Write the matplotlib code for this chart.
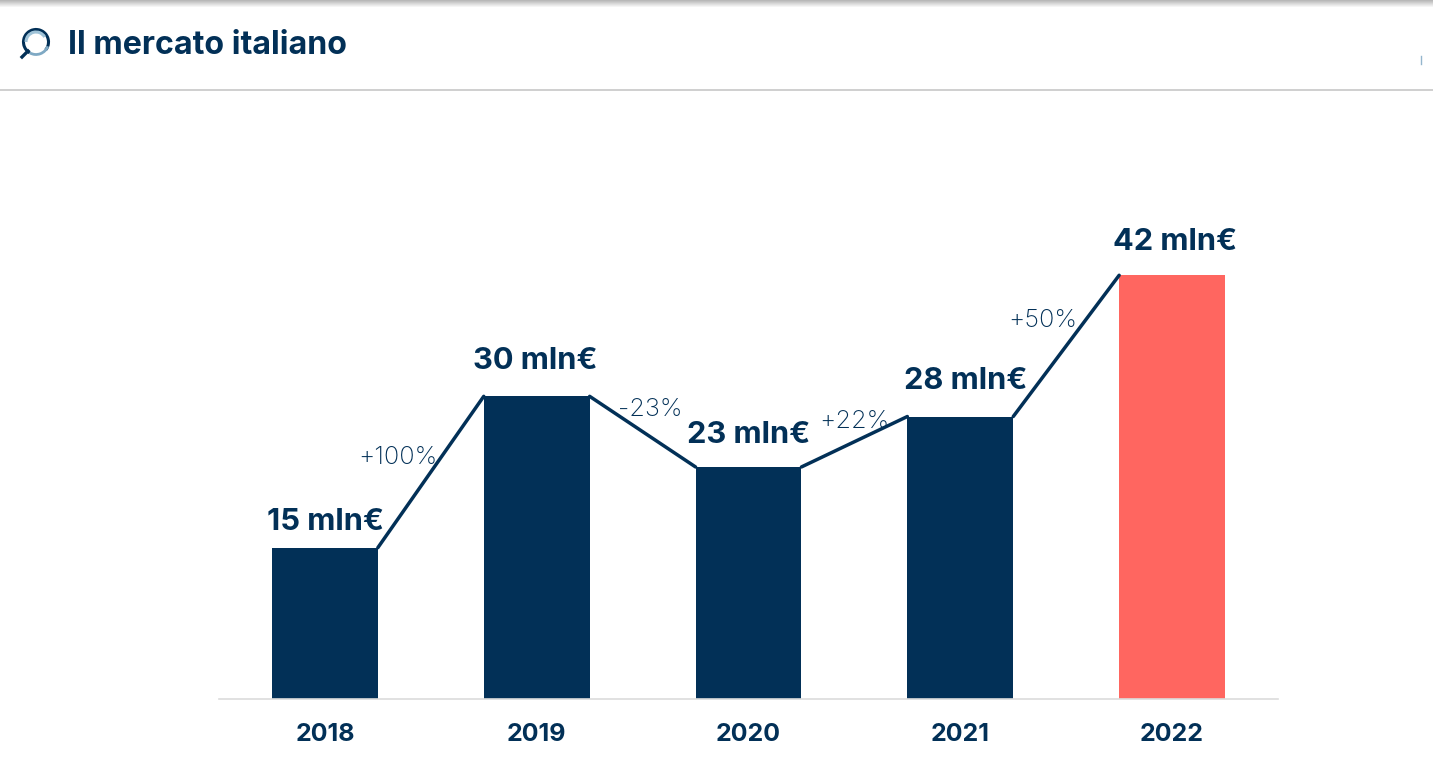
import numpy as np
import matplotlib
matplotlib.use('Agg')
import matplotlib.pyplot as plt
from matplotlib.patches import Arc

years = ['2018', '2019', '2020', '2021', '2022']
values = [15, 30, 23, 28, 42]
value_labels = ['15 mln€', '30 mln€', '23 mln€', '28 mln€', '42 mln€']
changes = ['+100%', '-23%', '+22%', '+50%']
title = 'Il mercato italiano'

navy = '#023057'
coral = '#ff6660'
W, H = 1433, 762

plt.rcParams['font.family'] = ['Inter', 'DejaVu Sans']

fig = plt.figure(figsize=(W / 100, H / 100), dpi=100)

# overlay in pixel coordinates for the page header
page = fig.add_axes([0, 0, 1, 1])
page.set_xlim(0, W)
page.set_ylim(H, 0)
page.axis('off')

# shadow along the top edge
shadow = np.linspace(0.72, 1, 8).reshape(-1, 1)
page.imshow(shadow, cmap='gray', vmin=0, vmax=1, extent=[0, W, 8, 0], aspect='auto')
page.set_xlim(0, W)
page.set_ylim(H, 0)
page.plot([0, W], [89.5, 89.5], color='#cfcfcf', lw=1.4)
page.text(68, 46, title, color=navy, fontsize=23.2, fontweight='bold', va='center', ha='left')

# magnifying glass icon
page.add_patch(Arc((36, 42), 25, 25, theta1=120, theta2=400, color=navy, lw=2.2))
page.add_patch(Arc((36, 42), 20, 20, theta1=180, theta2=330, color='#9fc3d8', lw=2.2))
page.add_patch(Arc((36, 42), 25, 25, theta1=20, theta2=120, color='#7fa9c4', lw=2.0))
page.plot([22, 28], [57, 51], color=navy, lw=2.4)
page.plot([1421, 1421], [56, 64], color='#4d86ad', lw=1, alpha=0.6)

# chart axes, bottom edge is the baseline
ax = fig.add_axes([219 / W, 1 - 699 / H, 1059 / W, 454 / H])
ax.patch.set_alpha(0)
x = np.arange(len(years))
colors = [navy] * 4 + [coral]
ax.bar(x, values, width=0.5, color=colors, zorder=2)
ax.set_xlim(-0.5, 4.5)
ax.set_ylim(0, 45)
ax.set_yticks([])
ax.set_xticks(x)
ax.set_xticklabels(years, fontsize=18, fontweight='bold', color=navy)
ax.tick_params(axis='x', length=0, pad=17)
for side in ['top', 'left', 'right']:
    ax.spines[side].set_visible(False)
ax.spines['bottom'].set_color('#dcdcdc')
ax.spines['bottom'].set_linewidth(1.2)

# connectors between neighbouring bars
for i in range(len(values) - 1):
    ax.plot([i + 0.25, i + 0.75], [values[i], values[i + 1]], color=navy, lw=2.5,
            solid_capstyle='round', zorder=3)

px = 72 / fig.dpi
label_offset = [(1, 26), (-1, 35), (0, 32), (5, 36), (3, 33)]
for i, txt in enumerate(value_labels):
    ax.annotate(txt, (i, values[i]), xytext=(label_offset[i][0] * px, label_offset[i][1] * px),
                textcoords='offset points', ha='center', va='center',
                fontsize=22.2, fontweight='bold', color=navy, zorder=4)

change_offset = [(-33, 14), (8, 22), (0, 20), (-23, 25)]
for i, txt in enumerate(changes):
    mid = (i + 0.5, (values[i] + values[i + 1]) / 2)
    ax.annotate(txt, mid, xytext=(change_offset[i][0] * px, change_offset[i][1] * px),
                textcoords='offset points', ha='center', va='center',
                fontsize=18.2, fontweight='light', color=navy, zorder=4)

plt.savefig('out.png', dpi=100)
